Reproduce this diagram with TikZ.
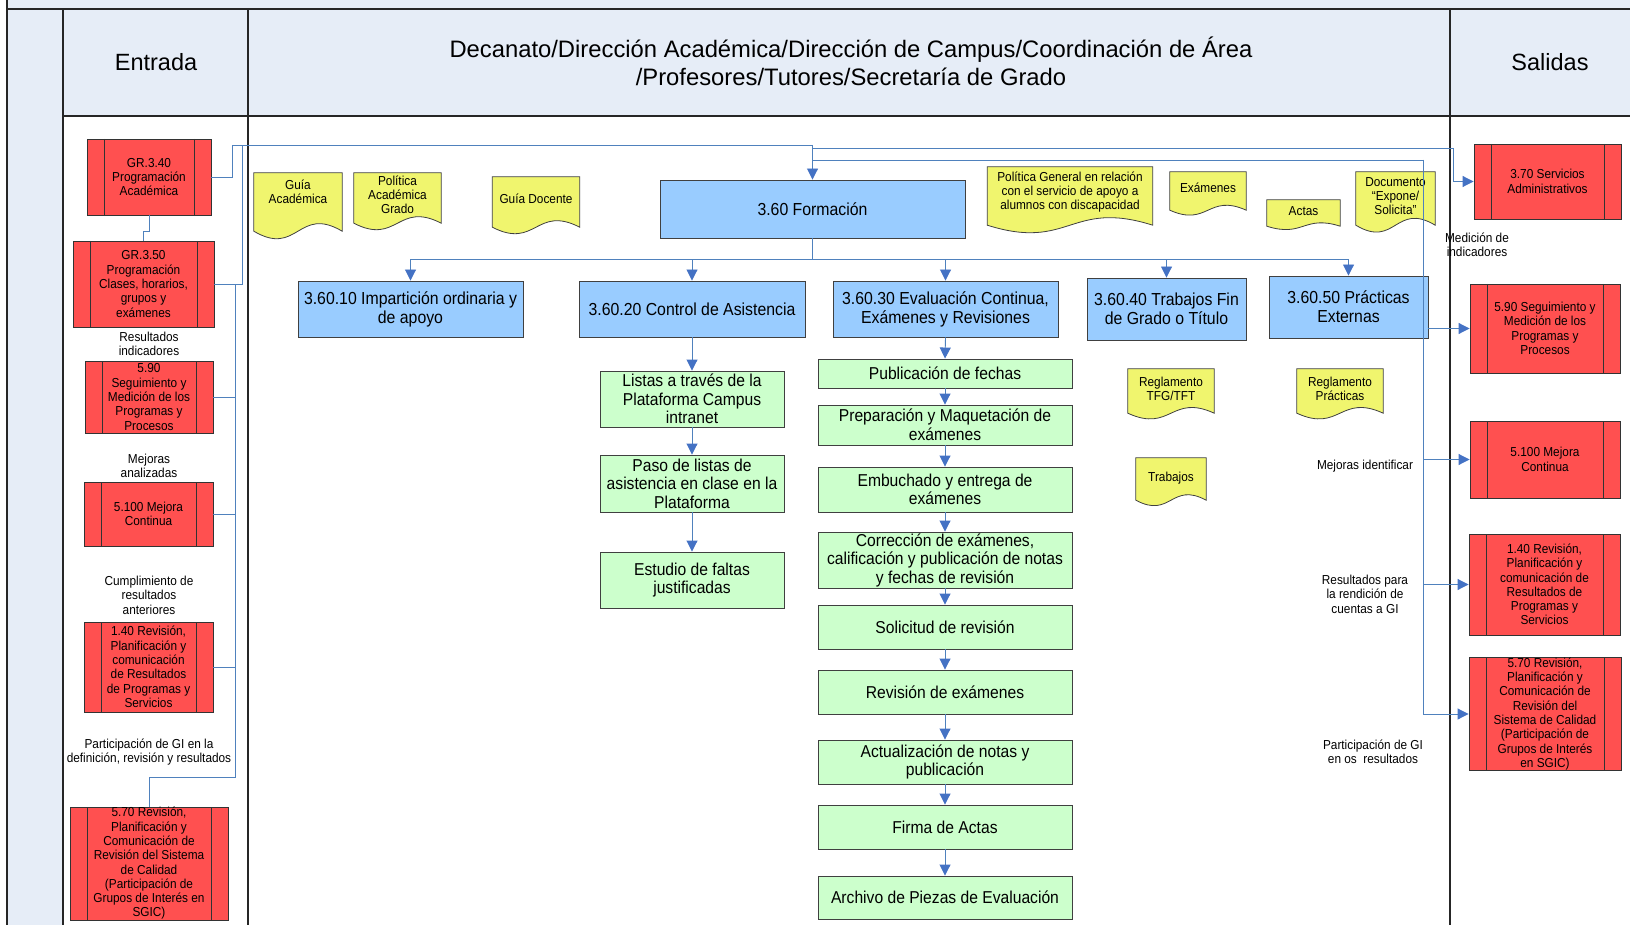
\documentclass[tikz,border=0pt]{standalone}
\usepackage{fontspec}
\setmainfont{Liberation Sans}
\newfontfamily\condfont{Liberation Sans}[FakeStretch=0.91]
\usetikzlibrary{arrows.meta}

\definecolor{lanefill}{RGB}{230,237,247}
\definecolor{procred}{RGB}{255,80,80}
\definecolor{procblue}{RGB}{153,204,255}
\definecolor{stepfill}{RGB}{204,255,204}
\definecolor{docyellow}{RGB}{240,245,110}
\definecolor{flowblue}{RGB}{79,129,189}
\definecolor{tipblue}{RGB}{68,114,196}

\tikzset{
  lane/.style={draw=black!85, line width=1.2pt},
  hdr/.style={align=center, inner sep=0pt, font=\fontsize{23.5}{28}\selectfont},
  redbox/.style={draw=black!80, fill=procred, line width=0.9pt, align=center, inner sep=0pt,
    font=\condfont\fontsize{13}{14.3}\selectfont,
    path picture={\draw[black!80, line width=0.9pt]
      ([xshift=17pt]path picture bounding box.north west) -- ([xshift=17pt]path picture bounding box.south west)
      ([xshift=-17pt]path picture bounding box.north east) -- ([xshift=-17pt]path picture bounding box.south east);}},
  bluebox/.style={draw=black!75, fill=procblue, line width=0.9pt, align=center, inner sep=0pt,
    font=\condfont\fontsize{17.4}{19}\selectfont},
  greenbox/.style={draw=black!75, fill=stepfill, line width=0.9pt, align=center, inner sep=0pt,
    font=\condfont\fontsize{17.2}{18.5}\selectfont},
  docbox/.style={inner sep=0pt},
  docline/.style={draw=black!75, fill=docyellow, line width=0.8pt},
  doctext/.style={align=center, inner sep=0pt, font=\condfont\fontsize{13}{14}\selectfont},
  lbl/.style={align=center, inner sep=0pt, font=\condfont\fontsize{13}{14.5}\selectfont},
  wire/.style={draw=flowblue, line width=0.9pt},
  wirearrow/.style={wire, -{Triangle[length=11pt,width=11pt,color=tipblue]}},
}

% yellow document: [text shift] name, x, y, width, height, text
\newcommand{\docnode}[7][3]{%
  \node[docbox, minimum width=#5, minimum height=#6] (#2) at (#3,#4) {};
  \filldraw[docline] (#2.north west) -- (#2.south west)
    .. controls ([yshift={-0.45*#6}]#2.south) and ([yshift={0.45*#6}]#2.south) .. (#2.south east)
    -- (#2.north east) -- cycle;
  \node[doctext] (#2-t) at ([yshift=#1]#2.center) {#7};
}

\begin{document}
\begin{tikzpicture}[x=1pt,y=-1pt]
\useasboundingbox (0,0) rectangle (1630,925);

% lanes
\fill[lanefill] (7,0) rectangle (1630,9);
\fill[lanefill] (7,9) rectangle (63,925);
\fill[lanefill] (63,9) rectangle (1630,116);
\draw[lane] (7,0) -- (7,925);
\draw[lane] (7,9) -- (1630,9);
\draw[lane] (63,116) -- (1630,116);
\draw[lane] (63,9) -- (63,925);
\draw[lane] (248,9) -- (248,925);
\draw[lane] (1450,9) -- (1450,925);

\node[hdr] (hent) at (156,62) {Entrada};
\node[hdr, font=\fontsize{23.8}{28}\selectfont] (hmid) at (851,61) {Decanato/Dirección Académica/Dirección de Campus/Coordinación de Área\\/Profesores/Tutores/Secretaría de Grado};
\node[hdr] (hsal) at (1550,62) {Salidas};

% entradas
\node[redbox, minimum width=124, minimum height=76] (gr340) at (149,177) {GR.3.40\\Programación\\Académica};
\node[redbox, minimum width=141, minimum height=86] (gr350) at (143.5,284) {GR.3.50\\Programación\\Clases, horarios,\\grupos y\\exámenes};
\node[redbox, minimum width=128, minimum height=72] (e590) at (149,397) {5.90\\Seguimiento y\\Medición de los\\Programas y\\Procesos};
\node[redbox, minimum width=129, minimum height=64] (e5100) at (148.5,514) {5.100 Mejora\\Continua};
\node[redbox, minimum width=129, minimum height=90] (e140) at (148.5,667) {1.40 Revisión,\\Planificación y\\comunicación\\de Resultados\\de Programas y\\Servicios};
\node[redbox, minimum width=158, minimum height=113] (e570) at (149,863.5) {5.70 Revisión,\\Planificación y\\Comunicación de\\Revisión del Sistema\\de Calidad\\(Participación de\\Grupos de Interés en\\SGIC)};

\node[lbl] (lres) at (149,344) {Resultados\\indicadores};
\node[lbl] (lmej) at (149,466) {Mejoras\\analizadas};
\node[lbl] (lcum) at (149,595) {Cumplimiento de\\resultados\\anteriores};
\node[lbl] (lpar) at (149,752) {Participación de GI en la\\definición, revisión y resultados};

% documentos
\docnode[10]{gacad}{298}{202}{88}{58}{Guía\\Académica}
\docnode{polac}{397.5}{198}{87}{50}{Política\\Académica\\Grado}
\docnode{gdoc}{536}{202}{87}{50}{Guía Docente}
\docnode[4]{polgen}{1070}{196}{165}{58}{Política General en relación\\con el servicio de apoyo a\\alumnos con discapacidad}
\docnode{exam}{1208}{191}{76}{38}{Exámenes}
\docnode[2]{actas}{1303.5}{213}{73}{26}{Actas}
\docnode[2.5]{docexp}{1395.5}{198.5}{79}{53}{Documento\\“Expone/\\Solicita”}
\docnode[2.5]{regtfg}{1171}{391}{86}{44}{Reglamento\\TFG/TFT}
\docnode[2.5]{regpr}{1340}{391}{86}{44}{Reglamento\\Prácticas}
\docnode[1]{trab}{1171}{479}{70}{42}{Trabajos}

% procesos
\node[bluebox, minimum width=305, minimum height=58] (form) at (812.5,209) {3.60 Formación};
\node[bluebox, minimum width=225, minimum height=56] (p6010) at (410.5,309) {3.60.10 Impartición ordinaria y\\de apoyo};
\node[bluebox, minimum width=226, minimum height=56] (p6020) at (692,309) {3.60.20 Control de Asistencia};
\node[bluebox, minimum width=225, minimum height=56] (p6030) at (945.5,309) {3.60.30 Evaluación Continua,\\Exámenes y Revisiones};
\node[bluebox, minimum width=159, minimum height=62] (p6040) at (1166.5,309) {3.60.40 Trabajos Fin\\de Grado o Título};
\node[bluebox, minimum width=159, minimum height=62] (p6050) at (1348.5,307) {3.60.50 Prácticas\\Externas};

\node[greenbox, minimum width=184, minimum height=56] (listas) at (692,399) {Listas a través de la\\Plataforma Campus\\intranet};
\node[greenbox, minimum width=184, minimum height=57] (paso) at (692,483.5) {Paso de listas de\\asistencia en clase en la\\Plataforma};
\node[greenbox, minimum width=184, minimum height=56] (estudio) at (692,580) {Estudio de faltas\\justificadas};

\node[greenbox, minimum width=254, minimum height=29] (pub) at (945,373.5) {Publicación de fechas};
\node[greenbox, minimum width=254, minimum height=40] (prep) at (945,425) {Preparación y Maquetación de\\exámenes};
\node[greenbox, minimum width=254, minimum height=45] (emb) at (945,489.5) {Embuchado y entrega de\\exámenes};
\node[greenbox, minimum width=254, minimum height=56] (corr) at (945,560) {Corrección de exámenes,\\calificación y publicación de notas\\y fechas de revisión};
\node[greenbox, minimum width=254, minimum height=44] (solic) at (945,627) {Solicitud de revisión};
\node[greenbox, minimum width=254, minimum height=44] (revex) at (945,692) {Revisión de exámenes};
\node[greenbox, minimum width=254, minimum height=44] (actu) at (945,762) {Actualización de notas y\\publicación};
\node[greenbox, minimum width=254, minimum height=44] (firma) at (945,827) {Firma de Actas};
\node[greenbox, minimum width=254, minimum height=43] (archivo) at (945,897.5) {Archivo de Piezas de Evaluación};

% salidas
\node[redbox, minimum width=147, minimum height=75] (s370) at (1547.5,181.5) {3.70 Servicios\\Administrativos};
\node[redbox, minimum width=150, minimum height=89] (s590) at (1545,328.5) {5.90 Seguimiento y\\Medición de los\\Programas y\\Procesos};
\node[redbox, minimum width=150, minimum height=77] (s5100) at (1545,459.5) {5.100 Mejora\\Continua};
\node[redbox, minimum width=151, minimum height=101] (s140) at (1544.5,584.5) {1.40 Revisión,\\Planificación y\\comunicación de\\Resultados de\\Programas y\\Servicios};
\node[redbox, minimum width=152, minimum height=112] (s570) at (1545,714) {5.70 Revisión,\\Planificación y\\Comunicación de\\Revisión del\\Sistema de Calidad\\(Participación de\\Grupos de Interés\\en SGIC)};

\node[lbl] (rmed) at (1477,245) {Medición de\\indicadores};
\node[lbl] (rmej) at (1365,466) {Mejoras identificar};
\node[lbl] (rres) at (1365,594) {Resultados para\\la rendición de\\cuentas a GI};
\node[lbl] (rpar) at (1373,752) {Participación de GI\\en os\ \ resultados};

% conectores de entrada
\coordinate (jtop) at (232,145);
\coordinate (jmid) at (242,145);
\coordinate (jv) at (235,284);
\coordinate (j570) at (149,777);
\draw[wire] (gr340.east) -| (jtop) -- (jtop -| form);
\draw[wirearrow] (jtop -| form) -- (form.north);
\draw[wire] (gr340.south) -- ++(0,16) -| (gr350.north);
\draw[wire] (gr350.east) -| (jmid);
\draw[wire] (e590.east) -| (jv);
\draw[wire] (e5100.east) -| (jv);
\draw[wire] (e140.east) -| (jv);
\draw[wire] (e140.east -| jv) |- (j570) -- (e570.north);

% conectores de salida
\coordinate (jout1) at (1453,148);
\coordinate (jout2) at (1423,160);
\draw[wire] (form.north |- jout1) -- (jout1);
\draw[wirearrow] (jout1) |- (s370.west);
\draw[wire] (form.north |- jout2) -- (jout2);
\draw[wirearrow] (jout2) |- (s5100.west);
\draw[wirearrow] (jout2) |- (s140.west);
\draw[wirearrow] (jout2) |- (s570.west);
\draw[wirearrow] (p6050.east |- s590.west) -- (s590.west);

% subprocesos
\coordinate (jsub) at (812.5,259);
\foreach \n in {p6010,p6020,p6030,p6040,p6050}
  \draw[wirearrow] (form.south) -- (jsub) -| (\n.north);
\foreach \a/\b in {p6020/listas,listas/paso,paso/estudio,p6030/pub,pub/prep,prep/emb,emb/corr,corr/solic,solic/revex,revex/actu,actu/firma,firma/archivo}
  \draw[wirearrow] (\a.south) -- (\b.north);
\end{tikzpicture}
\end{document}
